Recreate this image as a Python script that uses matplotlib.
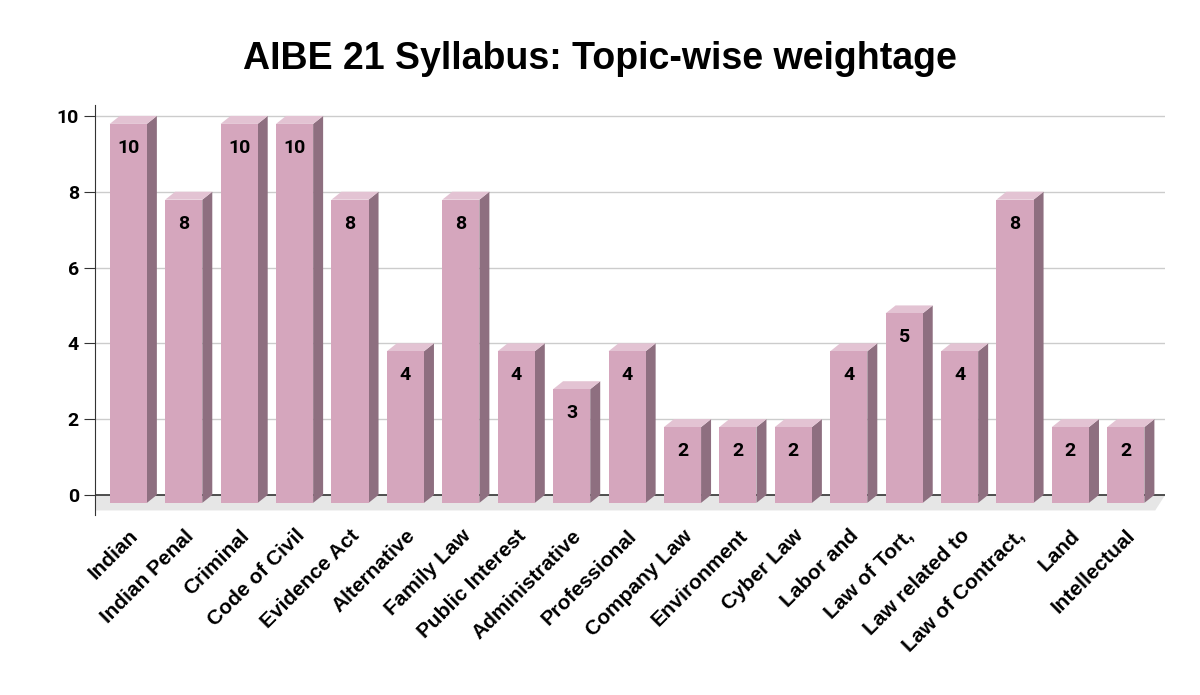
import matplotlib
matplotlib.use("Agg")
import matplotlib.pyplot as plt
from matplotlib.patches import Polygon

categories = ["Indian", "Indian Penal", "Criminal", "Code of Civil", "Evidence Act", "Alternative",
              "Family Law", "Public Interest", "Administrative", "Professional", "Company Law",
              "Environment", "Cyber Law", "Labor and", "Law of Tort,", "Law related to",
              "Law of Contract,", "Land", "Intellectual"]
values = [10, 8, 10, 10, 8, 4, 8, 4, 3, 4, 2, 2, 2, 4, 5, 4, 8, 2, 2]
yticks = [0, 2, 4, 6, 8, 10]

plt.rcParams['font.family'] = ['Roboto', 'DejaVu Sans']
fig = plt.figure(figsize=(12, 6.95), dpi=100)
ax = fig.add_axes([0.079, 0.259, 0.892, 0.59])
n = len(categories)
ax.set_xlim(-0.605, 18.71)
ax.set_ylim(-0.53, 10.29)
w, dx, dy = 0.67, 0.18, 0.21

for y in yticks:
    ax.plot([-0.605, 18.71], [y, y], color="#cccccc", lw=1, zorder=0)
ax.add_patch(Polygon([(-0.605, 0), (18.71, 0), (18.71 - dx, -dy - 0.2), (-0.605, -dy - 0.2)],
                     closed=True, color="#e6e6e6", zorder=1, lw=0))
ax.plot([-0.605, 18.71], [0, 0], color="#333333", lw=1.2, zorder=1.5)

for i, v in enumerate(values):
    x0 = i - w / 2
    top = v - dy
    ax.add_patch(Polygon([(x0 + w, -dy), (x0 + w + dx, 0), (x0 + w + dx, v), (x0 + w, top)],
                         color="#8e6f80", zorder=2, lw=0))
    ax.add_patch(Polygon([(x0, top), (x0 + dx, v), (x0 + w + dx, v), (x0 + w, top)],
                         color="#e3c3d3", zorder=2, lw=0))
    ax.add_patch(Polygon([(x0, -dy), (x0 + w, -dy), (x0 + w, top), (x0, top)],
                         color="#d5a6bd", zorder=3, lw=0))
    ax.text(i, top - 0.63, str(v), ha="center", va="center", fontsize=14, fontweight="bold", zorder=4)

for s in ["top", "right", "bottom"]:
    ax.spines[s].set_visible(False)
ax.spines["left"].set_color("#333333")
ax.set_yticks(yticks)
ax.set_yticklabels([str(t) for t in yticks], fontsize=14, fontweight="bold")
ax.tick_params(axis="y", length=8, color="#333333")
ax.set_xticks(range(n))
ax.set_xticklabels(categories, rotation=45, ha="right", rotation_mode="anchor",
                   fontsize=15, fontweight="bold", family=["Liberation Sans", "DejaVu Sans"])
ax.tick_params(axis="x", length=0, pad=8)
fig.text(0.5, 0.915, "AIBE 21 Syllabus: Topic-wise weightage", ha="center", va="center",
         fontsize=27, fontweight="bold", family=["Liberation Sans", "DejaVu Sans"])
fig.savefig("out.png", dpi=100, facecolor="white")
